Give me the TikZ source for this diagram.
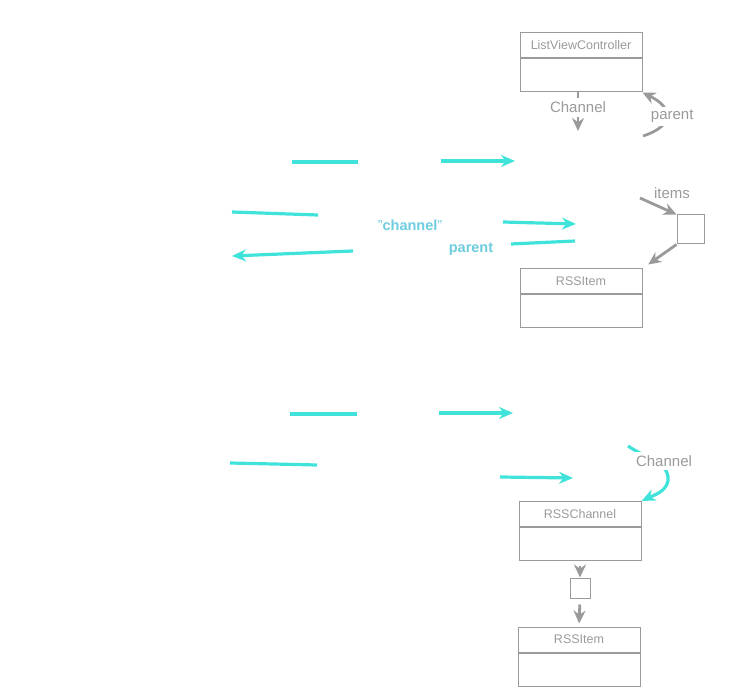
\documentclass[tikz,border=0pt]{standalone}
\usepackage{fontspec}
\setmainfont{Liberation Sans}
\usetikzlibrary{arrows.meta, positioning}
\definecolor{umlgray}{HTML}{9A9A9A}
\definecolor{linkcyan}{HTML}{40E3DA}
\definecolor{labelcyan}{HTML}{6CCCE0}

\begin{document}
\begin{tikzpicture}[x=1pt, y=-1pt,
  head/.style={draw=umlgray, line width=1pt, minimum width=122pt, minimum height=25pt, inner sep=0pt, text=umlgray, font=\fontsize{12.5}{14}\selectfont},
  body/.style={draw=umlgray, line width=1pt, minimum width=122pt, minimum height=33pt, inner sep=0pt},
  cell/.style={draw=umlgray, line width=1pt, inner sep=0pt},
  gref/.style={draw=umlgray, line width=2.8pt, -{Stealth[length=13pt,width=12pt]}},
  glabel/.style={text=umlgray, font=\fontsize{15}{17}\selectfont, fill=white, inner sep=3pt},
  msg/.style={draw=linkcyan, line width=3.2pt},
  msgarrow/.style={msg, -{Stealth[length=14pt,width=12pt]}},
  clabel/.style={text=labelcyan, font=\bfseries\fontsize{14.5}{16}\selectfont, inner sep=1pt}]
  \useasboundingbox (0,0) rectangle (750,700);

  % classes
  \node[head] (lvc) at (581,45.5) {ListViewController};
  \node[body, below=0pt of lvc] (lvcbody) {};
  \node[head] (item) at (581,281.5) {RSSItem};
  \node[body, below=0pt of item] (itembody) {};
  \node[head] (chan) at (580,514) {RSSChannel};
  \node[body, below=0pt of chan] (chanbody) {};
  \node[head] (item2) at (579,639.5) {RSSItem};
  \node[body, below=0pt of item2] (item2body) {};
  \node[cell, minimum width=27pt, minimum height=29pt] (itemcell) at (690.5,229.5) {};
  \node[cell, minimum width=20pt, minimum height=20pt] (chancell) at (580,588) {};

  % references
  \coordinate (chanend) at (578,131);
  \draw[gref] (lvcbody.south -| chanend) -- node[glabel, pos=0.38, inner ysep=4pt] (chanlbl) {Channel} (chanend);
  \coordinate (parentstart) at (643,136);
  \draw[gref] (parentstart) .. controls (674,126) and (674,108) .. node[glabel, xshift=6pt] (parentlbl) {parent} (lvcbody.south east);
  \coordinate (itemsstart) at (640,198);
  \node[glabel, inner sep=1pt] (itemslbl) at (672,193) {items};
  \draw[gref] (itemsstart) -- (itemcell.north west);
  \draw[gref, shorten >=7pt] (itemcell.south west) -- (item.north east);
  \draw[gref, shorten <=5pt] (chanbody.south) -- (chancell.north);
  \draw[gref, shorten <=6pt, shorten >=3pt] (chancell.south) -- (item2.north);

  % messages
  \coordinate (m1a) at (292,162); \coordinate (m1b) at (358,162);
  \coordinate (m2a) at (441,161); \coordinate (m2b) at (515,161);
  \draw[msg] (m1a) -- (m1b);
  \draw[msgarrow] (m2a) -- (m2b);
  \coordinate (m3a) at (232,212); \coordinate (m3b) at (318,215);
  \coordinate (m4a) at (503,222); \coordinate (m4b) at (576,224);
  \draw[msg] (m3a) -- (m3b);
  \draw[msgarrow] (m4a) -- (m4b);
  \node[clabel] (chanword) at (410,225) {{\mdseries"}channel{\mdseries"}};
  \coordinate (m5a) at (575,241); \coordinate (m5b) at (511,244);
  \coordinate (m6a) at (353,251); \coordinate (m6b) at (232,256);
  \draw[msg] (m5a) -- (m5b);
  \draw[msgarrow] (m6a) -- (m6b);
  \node[clabel] (parentword) at (471,249) {parent};
  \coordinate (m7a) at (290,414); \coordinate (m7b) at (357,414);
  \coordinate (m8a) at (439,413); \coordinate (m8b) at (513,413);
  \draw[msg] (m7a) -- (m7b);
  \draw[msgarrow] (m8a) -- (m8b);
  \coordinate (m9a) at (230,463); \coordinate (m9b) at (317,465);
  \coordinate (m10a) at (500,477); \coordinate (m10b) at (573,478);
  \draw[msg] (m9a) -- (m9b);
  \draw[msgarrow] (m10a) -- (m10b);
  \coordinate (chstart) at (628,446);
  \draw[msgarrow] (chstart) .. controls (645,458) and (670,462) .. (668,481) .. controls (666,492) and (652,496) .. (chan.north east);
  \node[glabel, inner sep=3pt] (chanlbl2) at (664,461) {Channel};
\end{tikzpicture}
\end{document}
